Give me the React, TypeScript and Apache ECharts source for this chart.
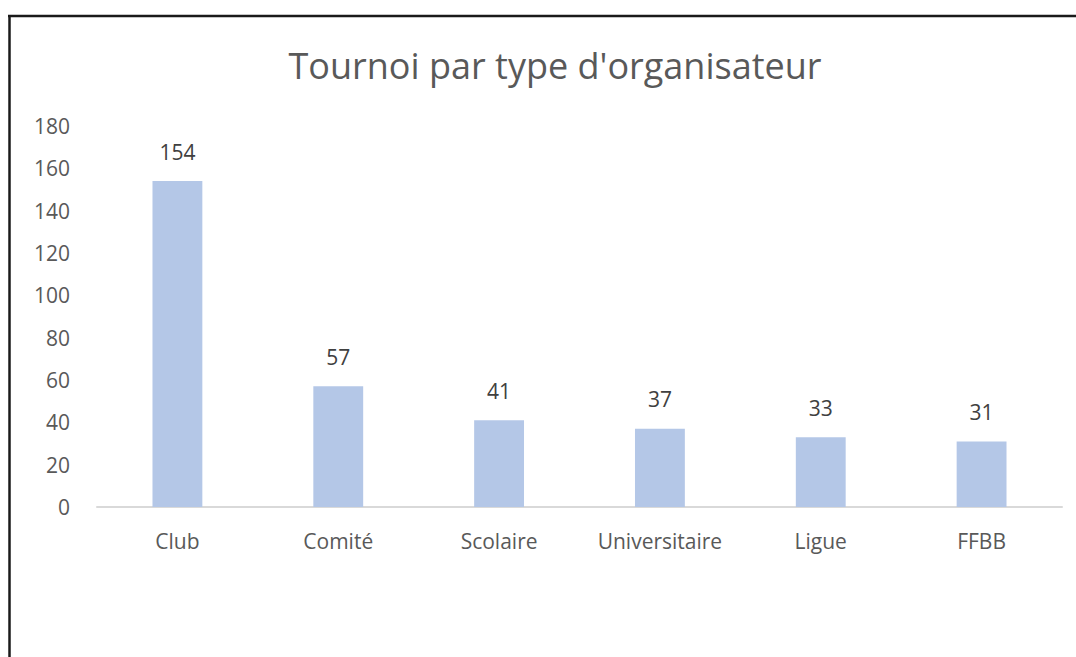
import React, { useEffect, useRef } from "react";
import * as echarts from "echarts";

const categories = ["Club", "Comité", "Scolaire", "Universitaire", "Ligue", "FFBB"];
const values = [154, 57, 41, 37, 33, 31];
const titleText = "Tournoi par type d'organisateur";

export default function App() {
  const ref = useRef<HTMLDivElement>(null);
  useEffect(() => {
    if (!ref.current) return;
    const chart = echarts.init(ref.current, undefined, { renderer: "svg" });
    const font = "'Open Sans', sans-serif";
    chart.setOption({
      animation: false,
      backgroundColor: "#ffffff",
      title: {
        text: titleText,
        left: 550,
        top: 42,
        textAlign: "center",
        textStyle: { fontFamily: font, fontSize: 36, fontWeight: "normal", color: "#595959" },
      },
      graphic: [
        {
          type: "line",
          shape: { x1: 8, y1: 16, x2: 1076, y2: 16 },
          style: { stroke: "#1a1a1a", lineWidth: 2.5 },
          silent: true,
        },
        {
          type: "line",
          shape: { x1: 9.5, y1: 15, x2: 9.5, y2: 657 },
          style: { stroke: "#1a1a1a", lineWidth: 2.5 },
          silent: true,
        },
      ],
      grid: { left: 97, right: 14, top: 126, bottom: 150, containLabel: false },
      xAxis: {
        type: "category",
        data: categories,
        axisLine: { show: true, lineStyle: { color: "#d9d9d9", width: 2 } },
        axisTick: { show: false },
        axisLabel: { interval: 0, fontFamily: font, fontSize: 21, color: "#595959", margin: 23 },
      },
      yAxis: {
        type: "value",
        min: 0,
        max: 180,
        interval: 20,
        axisLine: { show: false },
        axisTick: { show: false },
        splitLine: { show: false },
        axisLabel: { fontFamily: font, fontSize: 21, color: "#595959", margin: 27 },
      },
      series: [
        {
          type: "bar",
          data: values,
          barWidth: "31%",
          itemStyle: { color: "#b4c7e7" },
          label: {
            show: true,
            position: "top",
            distance: 19,
            fontFamily: font,
            fontSize: 21,
            color: "#404040",
          },
        },
      ],
    });
    return () => chart.dispose();
  }, []);
  return (
    <div
      ref={ref}
      style={{ position: "fixed", left: 0, top: 0, width: 1076, height: 657 }}
    />
  );
}
